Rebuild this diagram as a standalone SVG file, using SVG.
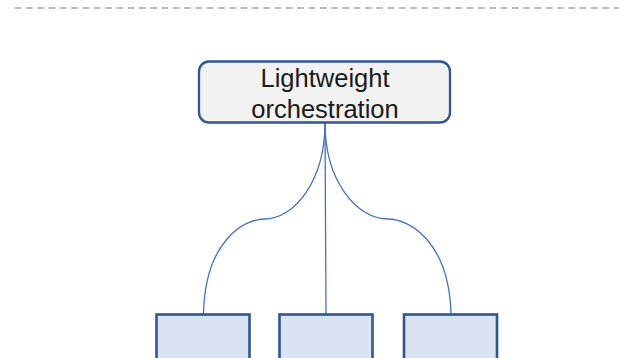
<svg xmlns="http://www.w3.org/2000/svg" width="619" height="358" viewBox="0 0 619 358">
  <style>
    .label { font-family: "Liberation Sans", Arial, sans-serif; font-size: 25.5px; fill: #1a1a1a; text-anchor: middle; }
    .link { fill: none; stroke: #4472c4; stroke-width: 1.3; }
    .service { fill: #dae3f3; stroke: #2f5597; stroke-width: 2.6; }
  </style>
  <rect width="619" height="358" fill="#ffffff"/>
  <!-- separator -->
  <line x1="14.7" y1="8" x2="619" y2="8" stroke="#a6a6a6" stroke-width="1.6" stroke-dasharray="6.7 4.6"/>

  <g id="connectors">
    <path class="link" d="M325,123 C325,180 295,219 264,219 C245,219 205,240 203.5,314"/>
    <path class="link" d="M325,123 L326,314"/>
    <path class="link" d="M325,123 C325,180 356,219 388,219 C408,219 449,240 451,314"/>
  </g>

  <g id="orchestrator">
    <rect x="199" y="61.5" width="251" height="61" rx="10" ry="10" fill="#f2f2f2" stroke="#2f5597" stroke-width="2.3"/>
    <text class="label" x="325" y="86.7">Lightweight</text>
    <text class="label" x="325" y="117.5">orchestration</text>
  </g>

  <g id="service-1">
    <rect class="service" x="156.5" y="314.5" width="93" height="60"/>
  </g>
  <g id="service-2">
    <rect class="service" x="279.5" y="314.5" width="93" height="60"/>
  </g>
  <g id="service-3">
    <rect class="service" x="404" y="314.5" width="93" height="60"/>
  </g>
</svg>
